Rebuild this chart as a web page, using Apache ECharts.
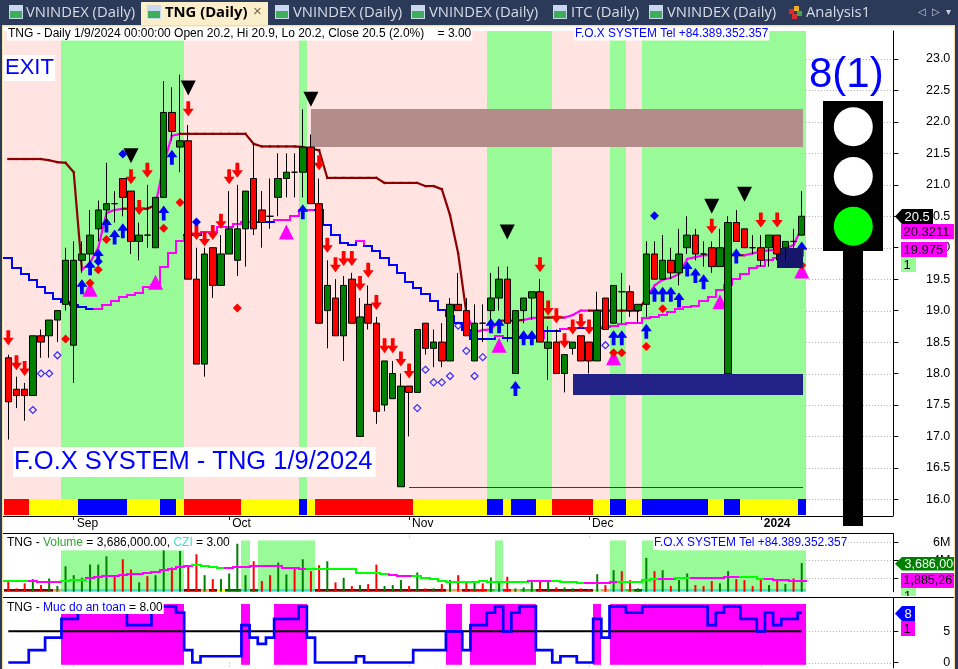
<!DOCTYPE html>
<html>
<head>
<meta charset="utf-8">
<title>TNG (Daily)</title>
<script src="https://cdn.jsdelivr.net/npm/echarts@6/dist/echarts.min.js"></script>
<style>
  html, body { margin: 0; padding: 0; background: #fff; overflow: hidden; }
  #chart { width: 958px; height: 669px; }
</style>
</head>
<body>
<div id="chart"></div>
<script>
// bar data
const opens = [18.25,17.75,17.75,17.65,18.6,18.6,18.85,19.1,18.45,19.8,19.9,20.3,20.6,20.7,21.1,20.9,20.1,20.2,20,20.8,22.15,21.6,21.7,19.5,18.15,20,19.4,19.9,19.8,20.3,21.1,20.6,20.5,20.8,21.1,21.2,21.2,21.6,20.7,19,19.2,18.6,19.5,17,19.1,18.8,17.5,17.6,16.2,17.8,17.7,18.8,18.4,18.5,18.2,19.1,19,18.2,18.8,19,19.2,19.5,18,19,19.2,19.3,18.4,18.5,18,18.4,18.6,18.5,18.2,19.2,18.8,19.3,19.3,19,19.1,19.9,19.5,19.8,19.6,20,20.2,19.9,20,19.7,18,20.4,20.3,20,20,20,20.2,20,20.1,20.2]
const closes = [17.55,17.65,17.65,18.6,18.5,18.85,19,19.8,19.8,19.9,20.2,20.6,20.7,20.7,20.8,20.1,20.2,20.2,20.8,22.15,21.85,21.7,19.5,18.15,19.9,19.4,19.9,20.3,20.3,20.9,20.3,20.4,20.5,21.1,21.2,21.2,21.6,20.7,18.8,19.4,18.6,19.4,18.8,18.9,18.8,17.4,18.2,18,17.8,17.7,18.7,18.4,18.5,18.2,19.1,19,18.6,18.8,18.8,19.2,19.5,18.8,19,19.2,19.3,18.5,18.5,18,18.3,18.5,18.2,18.2,19,18.7,19.4,19.3,19,19.1,19.9,19.5,19.8,19.6,19.9,20.2,19.9,19.9,19.7,20,20.4,20.1,20,20,19.8,20.2,19.9,20.1,20.1,20.5]
const highs = [18.3,17.95,17.85,18.6,18.7,18.85,19,20,20.1,20.1,20.6,20.75,21.35,20.9,21.1,20.9,20.4,21,20.8,22.65,22.55,22.75,21.95,20,20,20,20.2,20.9,21,20.9,21.65,20.9,21.1,21.5,21.5,21.5,22.2,21.8,21.1,19.8,19.5,19.55,19.6,19.2,19.4,18.9,18.2,18.2,18,17.8,18.7,18.8,18.7,18.8,19.2,19.6,19.2,19.1,19.1,19.6,19.7,19.7,19,19.2,19.3,19.5,18.75,18.7,18.3,18.5,18.6,18.5,19.3,19.2,19.4,19.6,19.4,19.1,20.1,20.1,20.2,20,20.3,20.5,20.3,20.1,20.1,20.3,20.5,20.6,20.3,20.2,20.2,20.2,20.2,20.1,20.3,20.9]
const lows = [16.95,17.45,17.25,17.65,18.25,18.25,18.5,19,17.85,19.6,19.7,20.1,20.4,20.4,20.5,19.9,19.8,20,20,20.8,21.7,21.2,19.5,18.15,17.95,19.2,19.4,19.9,19.55,19.7,20.2,20,20.3,20.5,20.8,20.8,20.8,20.7,18.8,18.4,18.6,18.2,18.8,17,18.7,17.2,17.4,17.6,16.2,17,17.7,18.3,18.1,18.1,18.2,19,18.6,18.2,18.5,18.85,19,18.5,18,18.8,18.85,18.5,17.9,18,17.7,18.3,18.2,18,18.2,18.7,18.8,18.8,18.9,18.8,18.9,19.5,19.5,19.5,19.4,19.9,19.8,19.7,19.6,19.7,18,20.1,20,19.9,19.7,19.7,19.8,19.8,20,20.2]

// trailing lines on the price panel
const upperLine = [21.41,21.41,21.41,21.41,21.41,21.39,21.36,21.35,21.2,19.65,19.76,20,20.55,20.6,20.62,20.62,20.62,20.62,20.68,21.33,21.78,21.81,21.81,21.81,21.81,21.81,21.81,21.81,21.81,21.81,21.65,21.61,21.61,21.61,21.61,21.61,21.6,21.57,21.55,21.11,21.11,21.11,21.11,21.11,21.11,21.11,21.03,21.03,21.03,21.03,21.03,20.98,20.98,20.93,20.52,19.91,18.96,18.66,18.69,18.7,18.84,18.84,18.84,18.85,18.88,18.89,18.89,18.89,18.89,18.93,19,19,19,19,19,19,19,19,19.2,19.4,19.49,19.52,19.58,19.82,19.85,19.88,19.88,19.88,19.88,19.88,19.88,19.91,19.94,19.96,19.96,19.99,20.04,20.32]
const lowerLine = [19.84,19.68,19.58,19.48,19.38,19.28,19.19,19.13,19.09,19.06,19.03,19.03,19.09,19.16,19.22,19.25,19.28,19.38,19.41,19.7,19.91,20.1,20.2,20.2,20.25,20.25,20.33,20.33,20.38,20.41,20.41,20.41,20.41,20.44,20.44,20.5,20.6,20.6,20.6,20.36,20.2,20.08,20.04,20.1,20.03,19.94,19.84,19.72,19.6,19.45,19.36,19.26,19.15,19.01,18.91,18.81,18.69,18.55,18.55,18.55,18.6,18.57,18.57,18.57,18.57,18.57,18.68,18.68,18.7,18.72,18.72,18.72,18.72,18.74,18.76,18.78,18.81,18.81,18.89,18.9,18.93,18.98,19.02,19.05,19.08,19.16,19.21,19.32,19.41,19.5,19.59,19.68,19.71,19.8,19.83,19.87,19.92,19.975]
const upperRuns = [[9,'r'],[5,'m'],[4,'r'],[3,'m'],[35,'r'],[4,'m'],[3,'r'],[2,'m'],[3,'r'],[3,'m'],[7,'r'],[8,'m'],[4,'r'],[8,'m']]
const lowerRuns = [[11,'b'],[11,'m'],[2,'b'],[7,'m'],[2,'b'],[5,'m'],[5,'b'],[1,'m'],[16,'b'],[1,'m'],[4,'b'],[1,'m'],[2,'b'],[2,'m'],[3,'b'],[25,'m']]

// background state and the colour strip under the candles
const bandRuns = [[7,'p'],[15,'g'],[14,'p'],[1,'g'],[22,'p'],[8,'g'],[7,'p'],[2,'g'],[2,'p'],[20,'g']]
const stripRuns = [[3,'r'],[6,'y'],[6,'b'],[4,'y'],[2,'b'],[1,'y'],[7,'r'],[7,'y'],[1,'b'],[1,'y'],[12,'r'],[9,'y'],[2,'b'],[1,'y'],[3,'b'],[2,'y'],[5,'r'],[2,'y'],[2,'b'],[2,'y'],[8,'b'],[2,'y'],[2,'b'],[7,'y'],[1,'b']]

// signals: [bar, price]
const redArrows = [[0,18.57],[1,18.17],[2,18.08],[15,21.13],[16,20.64],[17,21.23],[22,22.21],[23,20.24],[24,20.14],[25,20.24],[26,20.42],[27,21.13],[28,21.23],[38,21.35],[39,20.04],[40,19.73],[41,19.83],[42,19.83],[43,19.43],[44,19.64],[45,19.13],[46,18.44],[47,18.44],[48,18.23],[49,18.04],[65,19.73],[66,19.04],[67,18.92],[68,18.52],[69,18.74],[70,18.83],[71,18.74],[86,20.34],[92,20.44],[94,20.44]]
const blueArrows = [[9,19.38],[10,19.68],[11,19.87],[12,20.36],[13,20.17],[14,20.27],[19,20.55],[20,21.44],[36,20.57],[59,18.76],[60,18.76],[62,17.76],[63,18.57],[64,18.57],[72,17.82],[74,18.57],[75,18.57],[78,18.67],[79,19.26],[80,19.26],[81,19.26],[82,19.17],[83,19.66],[84,19.56],[85,19.46],[88,17.8],[89,19.87],[97,19.98]]
const sellMarks = [[15,21.46],[22,22.54],[37,22.36],[61,20.25],[86,20.66],[90,20.85]]
const buyMarks = [[10,19.34],[18,19.45],[34,20.25],[60,18.45],[74,18.25],[87,19.14],[97,19.63]]
const redDots = [[7,18.55],[10,19.44],[11,19.65],[12,20.13],[19,20.31],[21,20.72],[28,19.04],[74,18.33],[75,18.33],[78,18.43],[80,19.03],[97,19.72]]
const blueDots = [[11,19.78],[14,21.49],[23,20.41],[79,20.51]]
const hollowDots = [[3,17.42],[4,18],[5,18],[6,18.29],[50,17.45],[51,18.06],[52,17.86],[53,17.86],[54,17.96],[55,18.76],[56,18.36],[57,17.96],[58,18.26],[73,18.45]]

// zones: [first bar, last bar, top, bottom]
const zones = [[37,97,22.2,21.6],[69,97,18,17.67],[94,97,20,19.68],[49,97,16.19,16.19]]
const zoneColors = ['#b38d8a','#212187','#16166b','#333399']

// volume panel, millions
const volumes = [1.67,0.85,1.41,1.89,1.22,1.96,1.11,3.33,2.33,2.04,3.52,3.52,4.44,2.15,4.11,2.96,1.52,2.22,2.33,5.11,3.19,5.04,3.44,4.67,2.33,1.89,1.89,2.52,5.85,2.33,3.89,1.67,2.33,3.74,2.41,3.19,4.11,2.78,3.44,3.89,1.52,2.04,1.11,1.22,1.33,3.52,1.11,1.22,1.78,1.11,2.63,0.85,0.85,1.33,1.78,2.33,1.52,1.67,1.41,2.07,1.52,2.15,0.85,0.96,1.78,1.78,1.78,0.96,0.96,0.85,0.85,0.78,2.44,1.22,2.89,2.78,1.78,0.85,4.26,2.78,2.89,1.11,1.78,2.52,1.22,1.11,1.67,1.41,2.78,1.89,1.78,1.11,1.89,1.22,1.78,1.33,1.96,3.686]
const volumeAvg = [1.7,1.7,1.7,1.7,1.59,1.59,1.59,1.67,1.78,1.78,1.96,2.15,2.22,2.26,2.33,2.44,2.44,2.52,2.63,2.89,3.07,3.19,3.37,3.44,3.37,3.26,3.15,3.15,3.26,3.26,3.33,3.37,3.37,3.37,3.15,3.15,3.07,3,3,3,3,3.07,3,2.59,2.59,2.52,2.41,2.33,2.26,2.22,2.22,1.96,1.85,1.7,1.59,1.59,1.59,1.59,1.67,1.59,1.59,1.59,1.59,1.59,1.67,1.67,1.67,1.67,1.52,1.52,1.48,1.41,1.41,1.48,1.52,1.59,1.59,1.59,1.78,1.85,1.85,1.85,1.96,2.04,2.04,2.04,2.04,2.04,2.07,2.07,2.07,2.07,1.89,1.85,1.78,1.74,1.7,1.7]
const volumeAvgRuns = [[3,'g'],[4,'m'],[3,'g'],[13,'m'],[4,'g'],[10,'m'],[4,'g'],[6,'g'],[3,'m'],[14,'g'],[2,'m'],[1,'m'],[4,'g'],[4,'m'],[5,'g'],[2,'m'],[2,'g'],[6,'m'],[3,'g'],[5,'m'],[2,'g'],[3,'m'],[2,'g'],[4,'m'],[1,'g'],[2,'m']]
const czRuns = [[6,'m'],[1,'s'],[15,'t'],[2,'m'],[1,'s'],[1,'m'],[1,'y'],[2,'d'],[1,'t'],[1,'d'],[7,'t'],[16,'m'],[2,'s'],[1,'m'],[2,'r'],[1,'g'],[1,'t'],[1,'r'],[1,'s'],[2,'g'],[7,'m'],[1,'l'],[1,'s'],[2,'t'],[1,'g'],[1,'d'],[20,'t']]
const tallCz = [29,31,32,33,34,35,36,37,60,74,75,78,79]

// safety level panel
const safety = [0,0,0,2,2,4,4,7,7,8,8,8,8,8,8,6,6,6,8,9,9,8,2,0,1,1,1,1,1,6,4,3,4,7,7,7,9,4,0,0,0,0,0,1,0,0,0,0,0,0,2,2,2,2,5,5,2,6,6,8,9,5,8,9,9,2,2,0,1,1,0,0,7,4,9,9,8,8,9,9,9,9,9,9,9,9,6,8,9,9,7,7,5,8,6,7,7,8]
const safeLimit = 5

// axes
const barCount = 98
const slotCount = 109
const monthTicks = { 8: 'Sep', 27: 'Oct', 49: 'Nov', 71: 'Dec', 92: '2024' }
const priceTicks = [16,16.5,17,17.5,18,18.5,19,19.5,20,20.5,21,21.5,22,22.5,23]
const volumeTicks = [2,4,6]
const safetyTicks = [0,5]

const UI_FONT = '"Liberation Sans", Arial, sans-serif'
const TAB_FONT = '"Open Sans", sans-serif'
const PINK = '#ffe4e1', LIME = '#98fb98', MAGENTA = '#ff00ff', BLUE = '#0000ff'
const UP = '#008000', DOWN = '#ff0000', DARKRED = '#8b0000'

const slots = []
for (let i = 0; i < slotCount; i++) slots.push(monthTicks[i] || '')

function expand(runs) {
  const out = []
  runs.forEach(function (r) { for (let k = 0; k < r[0]; k++) out.push(r[1]) })
  return out
}

// one rectangle spanning a bar slot, placed through the axes
function cell(api, i, top, bottom, fill) {
  const a = api.coord([i, top]), b = api.coord([i, bottom]), w = api.size([1, 0])[0]
  const x0 = Math.round(a[0] - w / 2), x1 = Math.round(a[0] + w / 2)
  return { type: 'rect', shape: { x: x0, y: a[1], width: x1 - x0, height: b[1] - a[1] }, style: { fill: fill } }
}

function cellSeries(cells, gridIdx, z) {
  return {
    type: 'custom', xAxisIndex: gridIdx, yAxisIndex: gridIdx, z: z, silent: true,
    data: cells.map(function (c, k) { return [k, c[1]] }),
    encode: { x: 0, y: 1 },
    renderItem: function (params, api) {
      const c = cells[params.dataIndex]
      return c[3] ? cell(api, c[0], c[1], c[2], c[3]) : null
    }
  }
}

// line with a colour per bar; stair draws it as steps between bars
function colouredLine(values, keys, palette, gridIdx, z, stair, width) {
  return {
    type: 'custom', xAxisIndex: gridIdx, yAxisIndex: gridIdx, z: z, silent: true,
    data: values.map(function (v, i) { return [i, v] }),
    encode: { x: 0, y: 1 },
    renderItem: function (params, api) {
      const i = params.dataIndex
      const p = api.coord([i, values[i]]), half = api.size([1, 0])[0] / 2
      const next = i + 1 < values.length ? api.coord([i + 1, values[i + 1]]) : null
      let pts
      if (stair) {
        const xa = Math.round(p[0] - half), xb = Math.round(p[0] + half), ya = Math.round(p[1])
        pts = [[xa, ya], [xb, ya]]
        if (next) pts.push([xb, Math.round(next[1])])
      } else {
        pts = next ? [p, next] : [p, p]
      }
      return {
        type: 'polyline', shape: { points: pts },
        style: { stroke: palette[keys[i]], lineWidth: width, fill: null, lineJoin: 'miter', lineCap: 'square' }
      }
    }
  }
}

// dotted level lines, visible only right of the last bar
function levelLines(ticks, gridIdx) {
  return {
    type: 'custom', xAxisIndex: gridIdx, yAxisIndex: gridIdx, z: 1, silent: true,
    data: ticks.map(function (v) { return [barCount - 1, v] }),
    encode: { x: 0, y: 1 },
    renderItem: function (params, api) {
      const p = api.coord([api.value(0), api.value(1)])
      const half = api.size([1, 0])[0] / 2
      const y = Math.round(p[1]) + 0.5
      return {
        type: 'line',
        shape: { x1: p[0] + half, y1: y, x2: params.coordSys.x + params.coordSys.width - 3, y2: y },
        style: { stroke: '#aaaaaa', lineWidth: 1, lineDash: [1, 2] }
      }
    }
  }
}

function marks(data, symbol, size, color, z, extra) {
  return Object.assign({
    type: 'scatter', xAxisIndex: 0, yAxisIndex: 0, z: z, silent: true,
    symbol: symbol, symbolSize: size, data: data,
    itemStyle: { color: color, opacity: 1 }
  }, extra || {})
}

const ARROW_UP = 'path://M5.5 0 L11 7.5 L7.4 7.5 L7.4 15 L3.6 15 L3.6 7.5 L0 7.5 Z'
const ARROW_DOWN = 'path://M3.6 0 L7.4 0 L7.4 7.5 L11 7.5 L5.5 15 L0 7.5 L3.6 7.5 Z'

const bandColor = { p: PINK, g: LIME }
const stripColor = { r: '#ff0000', y: '#ffff00', b: BLUE }
const czColor = { m: DARKRED, s: '#f4a460', t: '#40e0d0', y: '#ffff00', d: '#006400', g: '#32cd32', l: LIME, r: '#ff0000' }

const priceCells = expand(bandRuns).map(function (k, i) { return [i, 23.445, 16.005, bandColor[k]] })
const stripCells = expand(stripRuns).map(function (k, i) { return [i, 16.005, 15.75, stripColor[k]] })
const czKeys = expand(czRuns)
const volBands = czKeys.map(function (k, i) {
  return [i, tallCz.indexOf(i) >= 0 ? 6.22 : 5.11, 0.78, k === 't' ? LIME : null]
})
const czCells = czKeys.map(function (k, i) { return [i, 0.78, 0.478, czColor[k]] })
const safeCells = safety.map(function (v, i) { return [i, 9.4, -0.37, v >= safeLimit ? MAGENTA : null] })

const zoneSeries = {
  type: 'custom', xAxisIndex: 0, yAxisIndex: 0, z: 5, silent: true,
  data: zones.map(function (r) { return [r[0], r[2]] }),
  encode: { x: 0, y: 1 },
  renderItem: function (params, api) {
    const r = zones[params.dataIndex]
    const a = api.coord([r[0], r[2]]), b = api.coord([r[1], r[3]])
    return {
      type: 'rect',
      shape: { x: Math.round(a[0]), y: Math.round(a[1]), width: Math.round(b[0] - a[0]) + 1, height: Math.max(1, Math.round(b[1] - a[1])) },
      style: { fill: zoneColors[params.dataIndex] }
    }
  }
}

const series = [
  levelLines(priceTicks, 0),
  levelLines(volumeTicks, 1),
  levelLines(safetyTicks, 2),
  cellSeries(priceCells, 0, 2),
  cellSeries(stripCells, 0, 2),
  colouredLine(upperLine, expand(upperRuns), { r: DARKRED, m: MAGENTA }, 0, 3, false, 2.2),
  colouredLine(lowerLine, expand(lowerRuns), { b: BLUE, m: MAGENTA }, 0, 3, true, 2),
  marks(redArrows, ARROW_DOWN, [11, 15], '#ff0000', 4),
  marks(blueArrows, ARROW_UP, [11, 15], BLUE, 4),
  marks(sellMarks, 'triangle', [15, 15], '#000000', 4, { symbolRotate: 180 }),
  marks(buyMarks, 'triangle', [15, 15], MAGENTA, 4),
  marks(hollowDots, 'diamond', [7, 7], 'rgba(255,255,255,0)', 4, { itemStyle: { color: 'rgba(255,255,255,0)', borderColor: BLUE, borderWidth: 1.2 } }),
  marks(redDots, 'diamond', [9, 9], '#ff0000', 4.5),
  marks(blueDots, 'diamond', [9, 9], BLUE, 4.5),
  zoneSeries,
  {
    type: 'candlestick', xAxisIndex: 0, yAxisIndex: 0, z: 6, silent: true,
    barWidth: 7,
    data: opens.map(function (o, i) { return [o, closes[i], lows[i], highs[i]] }),
    itemStyle: { color: UP, color0: DOWN, borderColor: '#000', borderColor0: '#000', borderColorDoji: '#000', borderWidth: 1 }
  },
  cellSeries(volBands, 1, 2),
  cellSeries(czCells, 1, 3),
  {
    type: 'bar', xAxisIndex: 1, yAxisIndex: 1, z: 4, silent: true,
    barWidth: 2,
    data: volumes.map(function (v, i) {
      return { value: v, itemStyle: { color: closes[i] > opens[i] ? UP : DOWN } }
    })
  },
  colouredLine(volumeAvg, expand(volumeAvgRuns), { g: '#00ff00', m: MAGENTA }, 1, 5, true, 2),
  cellSeries(safeCells, 2, 2),
  {
    type: 'line', xAxisIndex: 2, yAxisIndex: 2, z: 3, silent: true,
    showSymbol: false, data: safety.map(function () { return safeLimit }),
    lineStyle: { color: '#000', width: 2 }
  },
  {
    type: 'line', xAxisIndex: 2, yAxisIndex: 2, z: 4, silent: true,
    showSymbol: false, step: 'middle', data: safety,
    lineStyle: { color: BLUE, width: 2.7, join: 'miter' }
  }
]

function valueAxis(gridIdx, min, max, ticks, fmt) {
  return {
    type: 'value', gridIndex: gridIdx, position: 'right', min: min, max: max, offset: -2.5,
    splitLine: { show: false },
    axisLine: { show: true, onZero: false, lineStyle: { color: '#000', width: 1 } },
    axisTick: { show: true, length: 5, customValues: ticks, lineStyle: { color: '#000' } },
    axisLabel: {
      show: true, customValues: ticks, formatter: fmt, align: 'right', margin: 57,
      color: '#000', fontFamily: UI_FONT, fontSize: 12.5
    }
  }
}

function isMonth(i) { return monthTicks[i] !== undefined }

function lowerXAxis(gridIdx) {
  return {
    type: 'category', gridIndex: gridIdx, data: slots, position: 'top',
    axisLine: { show: false },
    axisLabel: { show: false },
    axisTick: {
      show: true, inside: true, alignWithLabel: true, length: 5,
      interval: function (i) { return isMonth(i) },
      lineStyle: { color: '#aaaaaa', type: [1, 2] }
    }
  }
}

const xAxes = [
  {
    type: 'category', gridIndex: 0, data: slots, position: 'bottom',
    axisLine: { show: false },
    axisTick: { show: true, alignWithLabel: true, interval: function (i) { return isMonth(i) }, length: 4, lineStyle: { color: '#000' } },
    axisLabel: {
      interval: function (i) { return isMonth(i) }, align: 'left', margin: 2, padding: [0, 0, 0, 3],
      color: '#000', fontFamily: UI_FONT, fontSize: 12,
      formatter: function (v) { return v === '2024' ? '{b|2024}' : v },
      rich: { b: { fontWeight: 'bold', fontFamily: UI_FONT, fontSize: 12, color: '#000' } }
    }
  },
  lowerXAxis(1),
  lowerXAxis(2)
]

// ---- text, tabs and the traffic light are plain graphic elements ----
const graphics = []

function box(x, y, w, h, fill, z) {
  graphics.push({ type: 'rect', z: z || 50, shape: { x: x, y: y, width: w, height: h }, style: { fill: fill } })
}
function label(text, x, y, size, fill, opts) {
  graphics.push({
    type: 'text', z: (opts && opts.z) || 60, x: x, y: y,
    style: Object.assign({
      text: text, fill: fill, fontFamily: UI_FONT, fontSize: size,
      textAlign: 'left', textVerticalAlign: 'middle'
    }, opts && opts.style)
  })
}
function hline(x1, x2, y) {
  graphics.push({ type: 'line', z: 55, shape: { x1: x1, y1: y, x2: x2, y2: y }, style: { stroke: '#000', lineWidth: 1 } })
}
function circle(cx, cy, r, fill) {
  graphics.push({ type: 'circle', z: 52, shape: { cx: cx, cy: cy, r: r }, style: { fill: fill } })
}
function tag(x, y, w, h, fill, text, color, tip, size) {
  if (tip) {
    graphics.push({
      type: 'polygon', z: 58,
      shape: { points: [[x - 7, y + h / 2], [x, y], [x + w, y], [x + w, y + h], [x, y + h]] },
      style: { fill: fill }
    })
  } else {
    box(x, y, w, h, fill, 57)
  }
  label(text, x + 2.5, y + h / 2 + 0.5, size || 13, color, { z: 59 })
}

// tab strip and window frame
box(0, 0, 958, 25, '#2b3a58', 70)
box(0, 25, 958, 1.5, '#f6dca8', 70)
box(0, 25, 2, 644, '#2b3a58', 70)
box(2, 25, 1, 644, '#f6dca8', 70)
box(955, 25, 3, 644, '#2b3a58', 70)
box(954, 25, 1, 644, '#f6dca8', 70)
box(141, 2, 127, 23, '#fbeecb', 71)

const tabs = [
  ['VNINDEX (Daily)', 26, 9], ['TNG (Daily)', 165, 147], ['VNINDEX (Daily)', 293, 275],
  ['VNINDEX (Daily)', 429, 411], ['ITC (Daily)', 571, 553], ['VNINDEX (Daily)', 667, 649]
]
tabs.forEach(function (t, k) {
  const active = k === 1
  box(t[2], 5, 14, 14, '#c9d8ee', 72)
  box(t[2] + 1, 11, 12, 7, '#3fae5a', 72)
  label(t[0], t[1], 13, 14.8, active ? '#000' : '#d7dce6', {
    z: 73, style: { fontFamily: TAB_FONT, fontWeight: active ? 'bold' : 'normal' }
  })
})
label('×', 253, 12, 15, '#7a6a4a', { z: 73 })
label('Analysis1', 806, 13, 14.8, '#d7dce6', { z: 73, style: { fontFamily: TAB_FONT } })
box(789, 9, 5, 5, '#e02a2a', 72)
box(794, 6, 5, 5, '#e8b024', 72)
box(797, 11, 5, 5, '#43a843', 72)
box(792, 14, 5, 5, '#d83030', 72)
label('◁  ▷  ▾', 918, 12, 10, '#c8d0dc', { z: 73, style: { fontFamily: '"DejaVu Sans"' } })

// caption lines
const whiteBg = { backgroundColor: '#fff', padding: [1, 1, 1, 1] }
label('TNG - Daily 1/9/2024 00:00:00 Open 20.2, Hi 20.9, Lo 20.2, Close 20.5 (2.0%)    = 3.00', 7, 33.5, 12, '#000', { style: whiteBg })
label('F.O.X SYSTEM Tel +84.389.352.357', 574, 33.5, 11.9, BLUE, { style: whiteBg })
label('EXIT', 4, 68, 22, BLUE, { style: { backgroundColor: '#fff', padding: [2, 1, 2, 1] } })
label('F.O.X SYSTEM - TNG 1/9/2024', 13, 462, 25.5, BLUE, { style: { backgroundColor: '#fff', padding: [2, 3, 2, 1] } })
label('8(1)', 809, 75, 42, BLUE)

// traffic light
box(843, 250, 20, 276, '#000', 51)
box(823, 101, 60, 150, '#000', 51)
circle(853.3, 126.7, 19.5, '#ffffff')
circle(853.3, 176.5, 19.5, '#ffffff')
circle(853.3, 226.3, 19.5, '#00ff00')

// panel rules
hline(3, 893, 516.5)
hline(3, 893, 533.5)
hline(3, 954, 597.5)

// value tags on the right axis
tag(902, 209, 31, 15, '#000', '20.5', '#fff', true)
tag(901, 224, 53, 15, MAGENTA, '20.3211', '#000')
tag(901, 242, 46, 15, MAGENTA, '19.975', '#000')
tag(901, 257, 15, 15, LIME, '1', '#000')

// caption with mixed colours keeps one text run
function richCaption(text, x, y, rich, bg) {
  graphics.push({
    type: 'text', z: 60, x: x, y: y,
    style: Object.assign({
      text: text, rich: rich, fontFamily: UI_FONT, fontSize: 12, fill: '#000',
      textAlign: 'left', textVerticalAlign: 'middle'
    }, bg || {})
  })
}
const capStyle = function (color) { return { fill: color, fontFamily: UI_FONT, fontSize: 12 } }

// volume panel captions
richCaption('{k|TNG - }{v|Volume}{k| = 3,686,000.00, }{c|CZI}{k| = 3.00}', 7, 542.5, {
  k: capStyle('#000'), v: capStyle('#2fa82f'), c: capStyle('#40e0d0')
})
label('F.O.X SYSTEM Tel +84.389.352.357', 653, 543, 11.9, BLUE, { style: whiteBg })
tag(902, 557, 56, 13.5, UP, '3,686,000', '#fff', true, 12.5)
tag(901, 573, 54, 15, MAGENTA, '1,885,267', '#000', false, 12.5)
box(901, 588, 15, 8, LIME, 57)
label('1', 904, 596, 13, '#000', { z: 58 })
box(901, 596, 15, 1, '#fff', 58.5)
box(901, 598, 15, 6, '#fff', 58.5)

// safety panel captions
richCaption('{k|TNG - }{b|Muc do an toan}{k| = 8.00}', 4, 608, {
  k: capStyle('#000'), b: capStyle(BLUE)
}, { backgroundColor: '#fff', padding: [0, 1, 0, 3] })
tag(902, 606, 13, 15, BLUE, '8', '#fff', true)
tag(901, 621, 14, 15, MAGENTA, '1', '#000')

const chart = echarts.init(document.getElementById('chart'), null, { renderer: 'canvas' })
chart.setOption({
  animation: false,
  backgroundColor: '#ffffff',
  textStyle: { fontFamily: UI_FONT },
  grid: [
    { left: 4.2, top: 31, width: 891.6, height: 485 },
    { left: 4.2, top: 533.5, width: 891.6, height: 58.2 },
    { left: 4.2, top: 597.5, width: 891.6, height: 70.5 }
  ],
  xAxis: xAxes,
  yAxis: [
    valueAxis(0, 15.735, 23.445, priceTicks, function (v) { return v.toFixed(1) }),
    valueAxis(1, 0.478, 7, volumeTicks, function (v) { return v + 'M' }),
    valueAxis(2, -0.85, 10.44, safetyTicks, function (v) { return String(v) })
  ],
  series: series,
  graphic: graphics
})
</script>
</body>
</html>
